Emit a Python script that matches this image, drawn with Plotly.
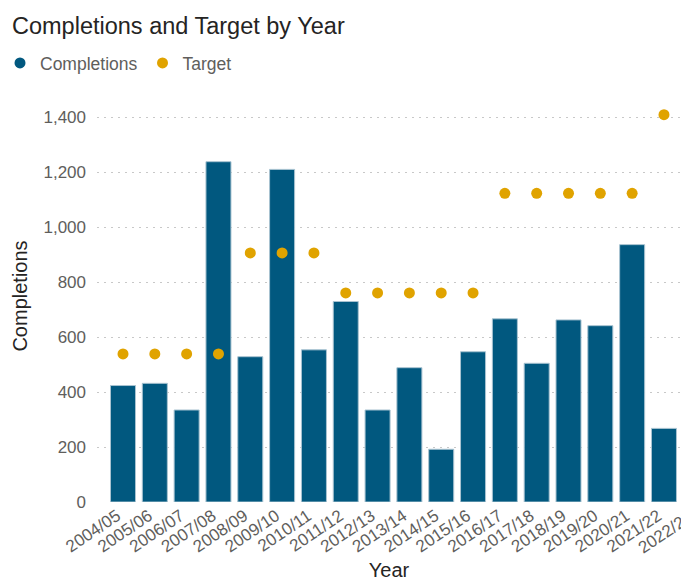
import plotly.graph_objects as go

years = ["2004/05", "2005/06", "2006/07", "2007/08", "2008/09", "2009/10",
         "2010/11", "2011/12", "2012/13", "2013/14", "2014/15", "2015/16",
         "2016/17", "2017/18", "2018/19", "2019/20", "2020/21", "2021/22",
         "2022/23"]
completions = [424, 432, 335, 1239, 529, 1211, 554, 730, 335, 489, 192, 547,
               667, 505, 663, 642, 937, 268, None]
target = [539, 539, 539, 539, 907, 907, 907, 761, 761, 761, 761, 761,
          1124, 1124, 1124, 1124, 1124, 1410, None]

BAR = "#01587F"
DOT = "#E0A300"
FONT = "Liberation Sans, Arial, sans-serif"
GREY = "#605E5C"
DARK = "#252423"

X_RANGE = [-0.817, 17.535]

fig = go.Figure()
fig.add_trace(go.Bar(
    x=years, y=completions, name="Completions", showlegend=False,
    marker=dict(color=BAR, line=dict(color="#A9C3D1", width=1)),
    legendgroup="c",
))
# legend entry with a round symbol (as in the reference)
fig.add_trace(go.Scatter(
    x=[None], y=[None], mode="markers", name="Completions",
    marker=dict(color=BAR, size=11), legendgroup="c",
))
fig.add_trace(go.Scatter(
    x=years, y=target, mode="markers", name="Target",
    marker=dict(color=DOT, size=11),
))

# partially visible tick label for the category beyond the visible range
last_idx = len(years) - 1
fig.add_annotation(
    x=(last_idx - X_RANGE[0]) / (X_RANGE[1] - X_RANGE[0]), xref="paper",
    y=0, yref="paper", yshift=-3, xshift=3,
    text=years[-1], showarrow=False, textangle=-34,
    xanchor="right", yanchor="top",
    font=dict(family=FONT, size=17, color=GREY),
)

fig.update_layout(
    width=681, height=581,
    margin=dict(l=97, r=0, t=90, b=79),
    paper_bgcolor="white", plot_bgcolor="white",
    bargap=0.214,
    font=dict(family=FONT, color=GREY),
    title=dict(
        text="Completions and Target by Year",
        x=12 / 681, xref="container", xanchor="left",
        y=1 - 26 / 581, yref="container", yanchor="middle",
        font=dict(family=FONT, size=23.5, color=DARK),
    ),
    legend=dict(
        orientation="h", x=-0.183, xref="paper", xanchor="left",
        y=1 - 63 / 581, yref="container", yanchor="middle",
        font=dict(family=FONT, size=17.5, color=GREY),
        itemwidth=30, traceorder="normal",
        bgcolor="rgba(0,0,0,0)",
    ),
    showlegend=True,
    hovermode=False,
)

fig.update_xaxes(
    type="category", range=X_RANGE, tickangle=-34,
    tickfont=dict(family=FONT, size=17, color=GREY),
    ticklabelshift=-6,
    showgrid=False, showline=False, zeroline=False, ticks="",
    automargin=False,
    title=dict(text="Year", font=dict(family=FONT, size=20, color=DARK),
               standoff=8),
)
fig.update_yaxes(
    range=[0, 1500], dtick=200, tickformat=",",
    tickfont=dict(family=FONT, size=17, color=GREY),
    showgrid=True, gridcolor="#C8C8C8", gridwidth=1, griddash="2px,5px",
    zeroline=False, showline=False, ticks="", ticklabelstandoff=10,
    automargin=False,
    title=dict(text="Completions", font=dict(family=FONT, size=20, color=DARK),
               standoff=10),
)

fig.write_html("out.html")
